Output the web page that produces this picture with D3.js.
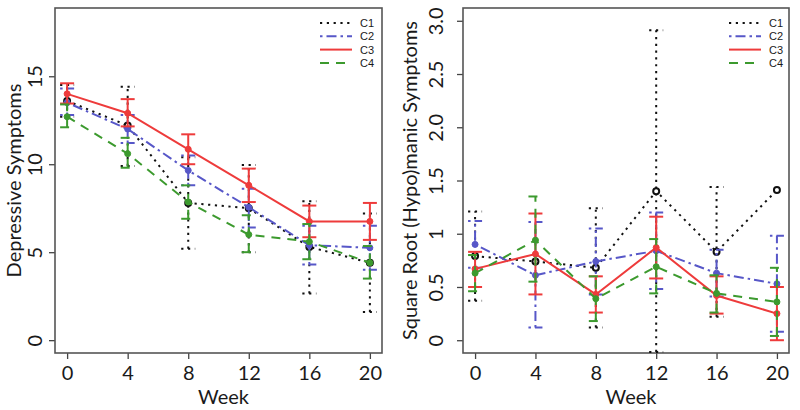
<!DOCTYPE html>
<html>
<head>
<meta charset="utf-8">
<script src="https://cdn.jsdelivr.net/npm/d3@7"></script>
<style>
  html, body { margin: 0; padding: 0; background: #fff; }
  svg { display: block; }
</style>
</head>
<body>
<svg id="chart" width="800" height="410"></svg>
<script>
// ---------- DATA ----------
const weeks = [0, 4, 8, 12, 16, 20];
const seriesNames = ["C1", "C2", "C3", "C4"];
const xTicks = [0, 4, 8, 12, 16, 20];
const depYTicks = [0, 5, 10, 15];
const manYTicks = [0, 0.5, 1, 1.5, 2, 2.5, 3];
const manYTickLabels = ["0", "0.5", "1", "1.5", "2.0", "2.5", "3.0"];

// Depressive symptoms: mean, lower, upper
const depC1 = [13.6, 12.2, 7.8, 7.5, 5.3, 4.4];
const depC1Lo = [12.7, 9.9, 5.2, 5.0, 2.65, 1.6];
const depC1Hi = [14.5, 14.4, 10.4, 9.95, 7.9, 7.2];
const depC2 = [13.5, 12.0, 9.65, 7.55, 5.4, 5.25];
const depC2Lo = [12.8, 11.2, 8.8, 6.4, 4.3, 4.0];
const depC2Hi = [14.3, 12.8, 10.5, 8.6, 6.5, 6.5];
const depC3 = [14.0, 12.9, 10.85, 8.8, 6.75, 6.75];
const depC3Lo = [13.45, 12.15, 10.0, 7.85, 5.85, 5.7];
const depC3Hi = [14.6, 13.7, 11.7, 9.75, 7.65, 7.8];
const depC4 = [12.7, 10.6, 7.85, 6.0, 5.6, 4.4];
const depC4Lo = [12.1, 9.8, 6.9, 5.0, 4.6, 3.5];
const depC4Hi = [13.4, 11.5, 8.8, 7.1, 6.6, 5.35];

// Square root (hypo)manic symptoms: mean, lower, upper (null = no bar)
const manC1 = [0.79, 0.74, 0.68, 1.40, 0.83, 1.41];
const manC1Lo = [0.37, null, 0.12, -0.11, 0.22, null];
const manC1Hi = [1.21, null, 1.24, 2.91, 1.44, null];
const manC2 = [0.90, 0.61, 0.74, 0.84, 0.63, 0.53];
const manC2Lo = [0.68, 0.12, 0.43, 0.48, 0.41, 0.08];
const manC2Hi = [1.12, 1.11, 1.05, 1.20, 0.85, 0.98];
const manC3 = [0.67, 0.81, 0.43, 0.87, 0.42, 0.25];
const manC3Lo = [0.50, 0.43, 0.26, 0.58, 0.25, 0.0];
const manC3Hi = [0.83, 1.19, 0.60, 1.16, 0.60, 0.50];
const manC4 = [0.63, 0.94, 0.39, 0.69, 0.44, 0.36];
const manC4Lo = [0.46, 0.55, 0.18, 0.44, 0.26, 0.04];
const manC4Hi = [0.80, 1.35, 0.60, 0.95, 0.61, 0.68];

// ---------- STYLE ----------
const colors = { C1: "#111111", C2: "#5757c8", C3: "#ee3b3b", C4: "#3c9a2e" };
const dashes = { C1: "2.2 4.6", C2: "2.5 4 10 4", C3: null, C4: "9 7" };
const FONT = "Lato, 'Open Sans', sans-serif";

const svg = d3.select("#chart");

function drawPanel(cfg) {
  const x = d3.scaleLinear().domain([-0.8, 20.8]).range([cfg.left, cfg.right]);
  const y = d3.scaleLinear().domain(cfg.yDomain).range([cfg.bottom, cfg.top]);
  const g = svg.append("g");

  // x axis ticks (R style, below box)
  const xAxis = d3.axisBottom(x).tickValues(xTicks).tickSize(6).tickFormat(d3.format("d"));
  const gx = g.append("g").attr("transform", `translate(0,${cfg.bottom})`).call(xAxis);
  gx.select(".domain").remove();
  gx.selectAll(".tick line").attr("stroke", "#444").attr("stroke-width", 1.3);
  gx.selectAll(".tick text").attr("font-family", FONT).attr("font-size", 20)
    .attr("fill", "#1a1a1a").attr("y", 27).attr("dy", 0);

  // y axis ticks (R style, rotated labels)
  const yAxis = d3.axisLeft(y).tickValues(cfg.yTicks).tickSize(6)
    .tickFormat((d, i) => cfg.yLabels[i]);
  const gy = g.append("g").attr("transform", `translate(${cfg.left},0)`).call(yAxis);
  gy.select(".domain").remove();
  gy.selectAll(".tick line").attr("stroke", "#444").attr("stroke-width", 1.3);
  gy.selectAll(".tick text").attr("font-family", FONT).attr("font-size", 20)
    .attr("fill", "#1a1a1a").attr("text-anchor", "middle")
    .attr("x", null).attr("dy", 0)
    .attr("transform", `translate(${cfg.yLabelX - cfg.left},0) rotate(-90)`);

  // box
  g.append("rect").attr("x", cfg.left).attr("y", cfg.top)
    .attr("width", cfg.right - cfg.left).attr("height", cfg.bottom - cfg.top)
    .attr("fill", "none").attr("stroke", "#555").attr("stroke-width", 1.6);

  // axis titles
  g.append("text").attr("x", (cfg.left + cfg.right) / 2 + 5).attr("y", 404)
    .attr("text-anchor", "middle").attr("font-family", FONT).attr("font-size", 20)
    .attr("fill", "#1a1a1a").text("Week");
  g.append("text").attr("transform", `translate(${cfg.titleX},${(cfg.top + cfg.bottom) / 2}) rotate(-90)`)
    .attr("text-anchor", "middle").attr("font-family", FONT).attr("font-size", 20)
    .attr("fill", "#1a1a1a").text(cfg.yTitle);

  // series
  const clip = g.append("g");
  seriesNames.forEach((s, si) => {
    const m = cfg.mean[si], lo = cfg.lo[si], hi = cfg.hi[si];
    const col = colors[s], da = dashes[s];
    const sg = clip.append("g");
    // error bars
    weeks.forEach((w, i) => {
      if (lo[i] === null || hi[i] === null) return;
      const cx = x(w);
      sg.append("line").attr("x1", cx).attr("x2", cx).attr("y1", y(lo[i])).attr("y2", y(hi[i]))
        .attr("stroke", col).attr("stroke-width", 2).attr("stroke-dasharray", da);
      [lo[i], hi[i]].forEach(v => {
        sg.append("line").attr("x1", cx - 7).attr("x2", cx + 7).attr("y1", y(v)).attr("y2", y(v))
          .attr("stroke", col).attr("stroke-width", 2).attr("stroke-dasharray", da);
      });
    });
    // line
    const line = d3.line().x((d, i) => x(weeks[i])).y(d => y(d));
    sg.append("path").datum(m).attr("d", line).attr("fill", "none")
      .attr("stroke", col).attr("stroke-width", 2).attr("stroke-dasharray", da);
    // points
    sg.selectAll("circle").data(m).join("circle")
      .attr("cx", (d, i) => x(weeks[i])).attr("cy", d => y(d)).attr("r", 3)
      .attr("fill", s === "C1" ? "#fff" : col).attr("stroke", col).attr("stroke-width", s === "C1" ? 2 : 1);
  });

  // legend
  seriesNames.forEach((s, i) => {
    const ly = cfg.legendY + i * 13.3;
    g.append("line").attr("x1", cfg.legendX).attr("x2", cfg.legendX + 32)
      .attr("y1", ly).attr("y2", ly).attr("stroke", colors[s]).attr("stroke-width", 2)
      .attr("stroke-dasharray", dashes[s]);
    g.append("text").attr("x", cfg.legendX + 40).attr("y", ly + 4)
      .attr("font-family", "'Liberation Sans', Arial, sans-serif").attr("font-size", 11)
      .attr("fill", "#1a1a1a").text(s);
  });
}

drawPanel({
  left: 55, right: 382, top: 8, bottom: 353,
  yDomain: [-0.73, 18.88], yTicks: depYTicks, yLabels: depYTicks.map(String),
  yLabelX: 42, titleX: 21, yTitle: "Depressive Symptoms",
  mean: [depC1, depC2, depC3, depC4], lo: [depC1Lo, depC2Lo, depC3Lo, depC4Lo], hi: [depC1Hi, depC2Hi, depC3Hi, depC4Hi],
  legendX: 320, legendY: 23
});
drawPanel({
  left: 463, right: 789, top: 8, bottom: 353,
  yDomain: [-0.12, 3.12], yTicks: manYTicks, yLabels: manYTickLabels,
  yLabelX: 443, titleX: 417, yTitle: "Square Root (Hypo)manic Symptoms",
  mean: [manC1, manC2, manC3, manC4], lo: [manC1Lo, manC2Lo, manC3Lo, manC4Lo], hi: [manC1Hi, manC2Hi, manC3Hi, manC4Hi],
  legendX: 729, legendY: 23
});
</script>
</body>
</html>
